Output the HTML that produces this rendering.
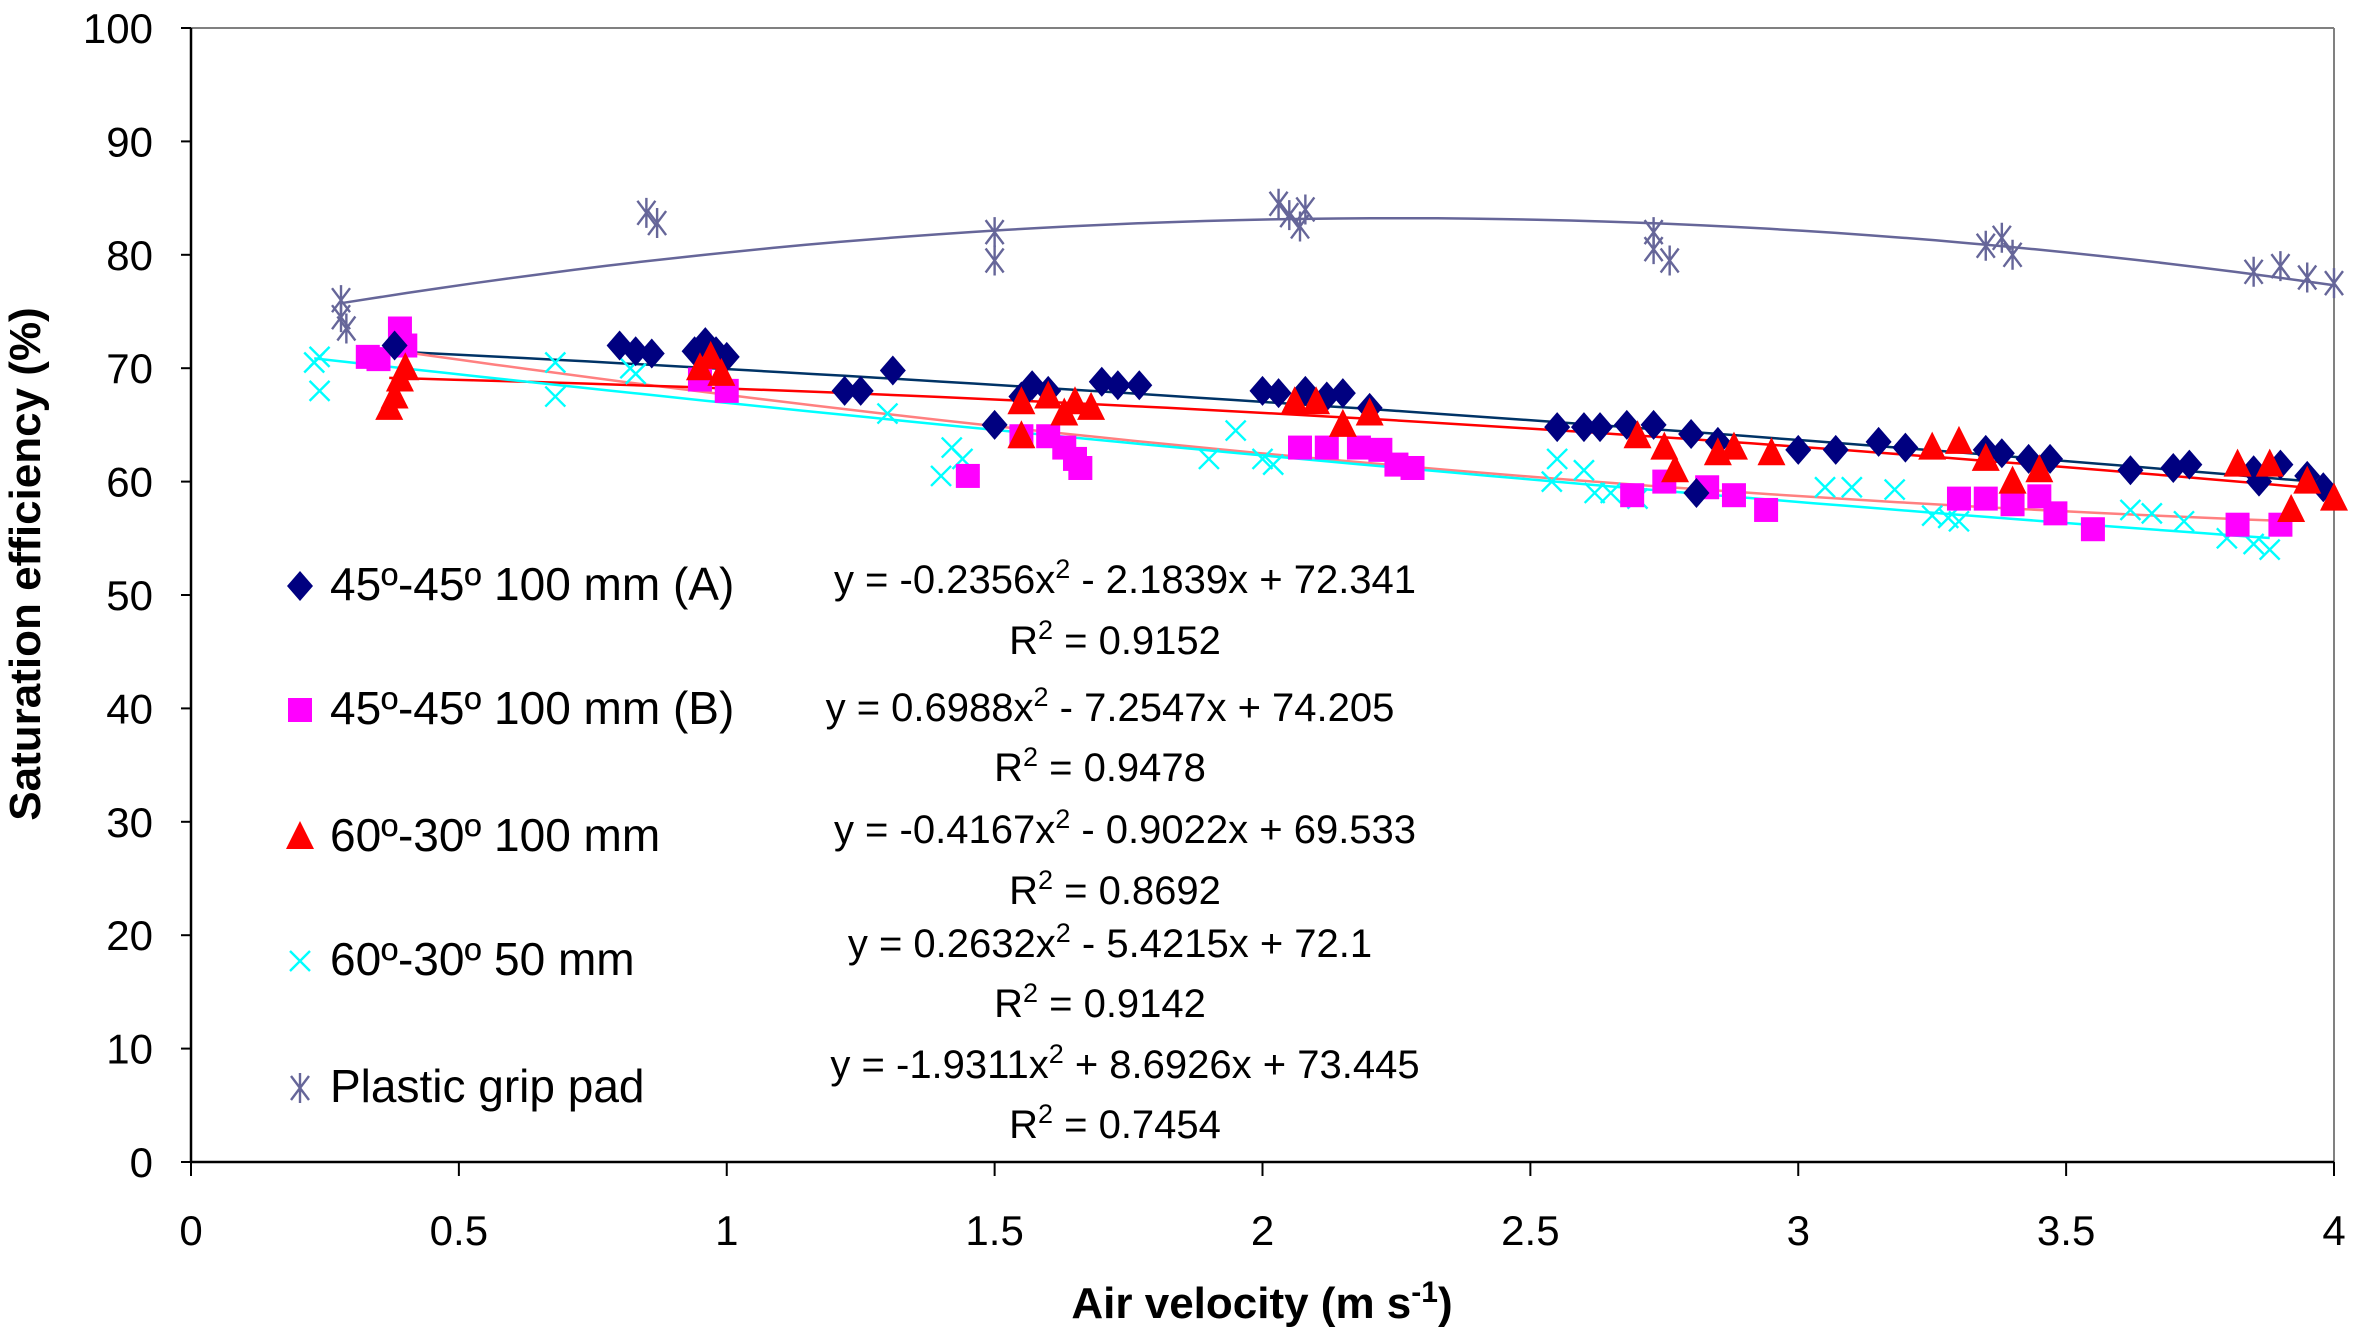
<!DOCTYPE html>
<html><head><meta charset="utf-8"><style>
html,body{margin:0;padding:0;background:#fff}
svg{display:block}
text{font-family:"Liberation Sans",Arial,sans-serif}
</style></head><body>
<svg id="chart" width="2362" height="1331" viewBox="0 0 2362 1331" xmlns="http://www.w3.org/2000/svg">
<g id="grid"></g><g id="trends"></g><g id="marks"></g><g id="legend"></g>
</svg>
<script>
const xTicks=[0,0.5,1,1.5,2,2.5,3,3.5,4];
const xTickLabels=["0","0.5","1","1.5","2","2.5","3","3.5","4"];
const yTicks=[0,10,20,30,40,50,60,70,80,90,100];
const seriesNames=["45º-45º 100 mm (A)","45º-45º 100 mm (B)","60º-30º 100 mm","60º-30º 50 mm","Plastic grip pad"];
const aX=[0.38,0.8,0.83,0.86,0.94,0.96,0.98,1.0,1.22,1.25,1.31,1.5,1.55,1.57,1.6,1.7,1.73,1.77,2.0,2.03,2.08,2.12,2.15,2.2,2.55,2.6,2.63,2.68,2.73,2.8,2.85,2.81,3.0,3.07,3.15,3.2,3.35,3.38,3.43,3.47,3.62,3.7,3.73,3.85,3.86,3.9,3.95,3.98];
const aY=[72,72,71.5,71.3,71.5,72.3,71.5,71,68,68,69.8,65,67.5,68.5,68,68.8,68.5,68.5,68,67.8,68,67.5,67.8,66.5,64.8,64.8,64.8,65,65,64.2,63.5,59,62.8,62.8,63.5,63,62.8,62.5,62,62,61,61.2,61.5,61,60,61.5,60.5,59.5];
const bX=[0.33,0.35,0.39,0.4,0.95,1.0,1.45,1.55,1.6,1.63,1.65,1.66,2.07,2.12,2.18,2.22,2.25,2.28,2.69,2.75,2.83,2.88,2.94,3.3,3.35,3.4,3.45,3.48,3.55,3.82,3.9];
const bY=[71,70.8,73.5,72,69,68,60.5,64,64,63,62,61.2,63,63,63,62.8,61.5,61.2,58.8,60,59.5,58.8,57.5,58.5,58.5,58,58.7,57.2,55.8,56.2,56.2];
const cX=[0.37,0.38,0.39,0.4,0.95,0.97,0.99,1.55,1.55,1.6,1.63,1.65,1.68,2.06,2.1,2.15,2.2,2.7,2.75,2.77,2.85,2.88,2.95,3.25,3.3,3.35,3.4,3.45,3.82,3.88,3.92,3.95,4.0];
const cY=[66.5,67.5,69,70,70,71,69.5,64,67,67.5,66,67,66.5,67,67,65,66,64,63,61,62.5,63,62.5,63,63.5,62,60,61,61.5,61.5,57.5,60,58.5];
const dX=[0.23,0.24,0.24,0.68,0.68,0.82,0.83,1.3,1.4,1.42,1.44,1.9,1.95,2.0,2.02,2.54,2.55,2.6,2.62,2.65,2.7,3.05,3.1,3.18,3.25,3.28,3.3,3.62,3.66,3.72,3.8,3.85,3.88];
const dY=[70.5,71,68,70.5,67.5,70,69.5,66,60.5,63,62,62,64.5,62,61.5,60,62,61,59,59,58.5,59.5,59.5,59.3,57,56.8,56.5,57.5,57.2,56.5,55,54.5,54];
const eX=[0.28,0.28,0.29,0.85,0.87,1.5,1.5,2.03,2.05,2.07,2.08,2.73,2.73,2.76,3.35,3.38,3.4,3.85,3.9,3.95,4.0];
const eY=[76,74.5,73.5,83.7,82.8,82,79.5,84.5,83.5,82.5,84,82,80.5,79.5,80.8,81.5,80,78.5,79,78,77.5];
const coefA2=[-0.2356,0.6988,-0.4167,0.2632,-1.9311];
const coefA1=[-2.1839,-7.2547,-0.9022,-5.4215,8.6926];
const coefA0=[72.341,74.205,69.533,72.1,73.445];
const r2=["0.9152","0.9478","0.8692","0.9142","0.7454"];

const NS="http://www.w3.org/2000/svg";
const X0=191,X1=2334,Y0=1162,Y1=28;
const sx=v=>X0+(v-0)/(4-0)*(X1-X0);
const sy=v=>Y0-(v-0)/(100-0)*(Y0-Y1);
function mk(tag,attrs,parent,txt){const e=document.createElementNS(NS,tag);for(const k in attrs)e.setAttribute(k,attrs[k]);if(txt!==undefined)e.textContent=txt;parent.appendChild(e);return e;}
const grid=document.getElementById('grid'),trends=document.getElementById('trends'),marks=document.getElementById('marks'),legend=document.getElementById('legend');

let e;
e=mk('line',{x1:X0,y1:Y1,x2:X1,y2:Y1,stroke:'#808080','stroke-width':2},grid);

e=mk('line',{x1:X1,y1:Y1,x2:X1,y2:Y0,stroke:'#808080','stroke-width':2},grid);

e=mk('line',{x1:X0,y1:Y1,x2:X0,y2:Y0,stroke:'#000','stroke-width':2.5},grid);

e=mk('line',{x1:X0,y1:Y0,x2:X1,y2:Y0,stroke:'#000','stroke-width':2.5},grid);

yTicks.forEach(t=>{
 const l=mk('line',{x1:X0-10,y1:sy(t),x2:X0,y2:sy(t),stroke:'#000','stroke-width':2},grid);
 
 const tx=mk('text',{x:X0-38,y:sy(t)+15,'text-anchor':'end','font-size':42},grid,String(t));
 
});
xTicks.forEach((t,i)=>{
 const l=mk('line',{x1:sx(t),y1:Y0,x2:sx(t),y2:Y0+14,stroke:'#000','stroke-width':2},grid);
 
 const tx=mk('text',{x:sx(t),y:Y0+83,'text-anchor':'middle','font-size':42},grid,xTickLabels[i]);
 
});
e=mk('text',{x:1262,y:1318,'text-anchor':'middle','font-size':44,'font-weight':'bold'},grid);

e.innerHTML='Air velocity (m s<tspan dy="-16" font-size="30">-1</tspan><tspan dy="16">)</tspan>';
e=mk('text',{x:0,y:0,transform:'translate(40,564) rotate(-90)','text-anchor':'middle','font-size':44,'font-weight':'bold'},grid,'Saturation efficiency (%)');


const colors=['#000080','#ff00ff','#ff0000','#00ffff','#666699'];
const lineColors=['#003366','#ff8080','#ff0000','#00ffff','#666699'];
const xs=[aX,bX,cX,dX,eX],ys=[aY,bY,cY,dY,eY];

function marker(type,x,y,parent){
 let m;
 if(type===0) m=mk('polygon',{points:`${x},${y-15} ${x+13},${y} ${x},${y+15} ${x-13},${y}`,fill:colors[0]},parent);
 else if(type===1) m=mk('rect',{x:x-12,y:y-12,width:24,height:24,fill:colors[1]},parent);
 else if(type===2) m=mk('polygon',{points:`${x},${y-16} ${x+14},${y+12} ${x-14},${y+12}`,fill:colors[2]},parent);
 else if(type===3) m=mk('path',{d:`M${x-10} ${y-10}L${x+10} ${y+10}M${x+10} ${y-10}L${x-10} ${y+10}`,stroke:colors[3],'stroke-width':2.4,fill:'none'},parent);
 else m=mk('path',{d:`M${x-9} ${y-12}L${x+9} ${y+12}M${x+9} ${y-12}L${x-9} ${y+12}M${x} ${y-15}L${x} ${y+15}`,stroke:colors[4],'stroke-width':2.4,fill:'none'},parent);
 return m;
}

for(let s=0;s<5;s++){
 const xv=xs[s];
 const mn=Math.min(...xv),mx=Math.max(...xv);
 let d='';
 for(let i=0;i<=60;i++){const x=mn+(mx-mn)*i/60;const y=coefA2[s]*x*x+coefA1[s]*x+coefA0[s];d+=(i?'L':'M')+sx(x).toFixed(1)+' '+sy(y).toFixed(1);}
 const p=mk('path',{d:d,stroke:lineColors[s],'stroke-width':2.5,fill:'none'},trends);
 
 
}
const order=[4,3,1,0,2];
order.forEach(s=>{
 const g=mk('g',{},marks);
 
 
 xs[s].forEach((xv,i)=>{
  const m=marker(s,sx(xv),sy(ys[s][i]),g);
  
  
 });
});

const legY=[600,724,851,975,1102];
const eqY=[[593,654],[721,781],[843,904],[957,1017],[1078,1138]];
const eqX=[1125,1110,1125,1110,1125];
for(let s=0;s<5;s++){
 const g=mk('g',{},legend);
 
 
 marker(s,300,legY[s]-14,g);
 mk('text',{x:330,y:legY[s],'font-size':46},g,seriesNames[s]);
 const a2=coefA2[s],a1=coefA1[s],a0=coefA0[s];
 const t=mk('text',{x:eqX[s],y:eqY[s][0],'text-anchor':'middle','font-size':40},legend);
 
 
 t.innerHTML=`y = ${a2}x<tspan dy="-15" font-size="27">2</tspan><tspan dy="15"> ${a1<0?'-':'+'} ${Math.abs(a1)}x + ${a0}</tspan>`;
 const r=mk('text',{x:eqX[s]-10,y:eqY[s][1],'text-anchor':'middle','font-size':40},legend);
 
 
 r.innerHTML=`R<tspan dy="-15" font-size="27">2</tspan><tspan dy="15"> = ${r2[s]}</tspan>`;
}
</script>
</body></html>
